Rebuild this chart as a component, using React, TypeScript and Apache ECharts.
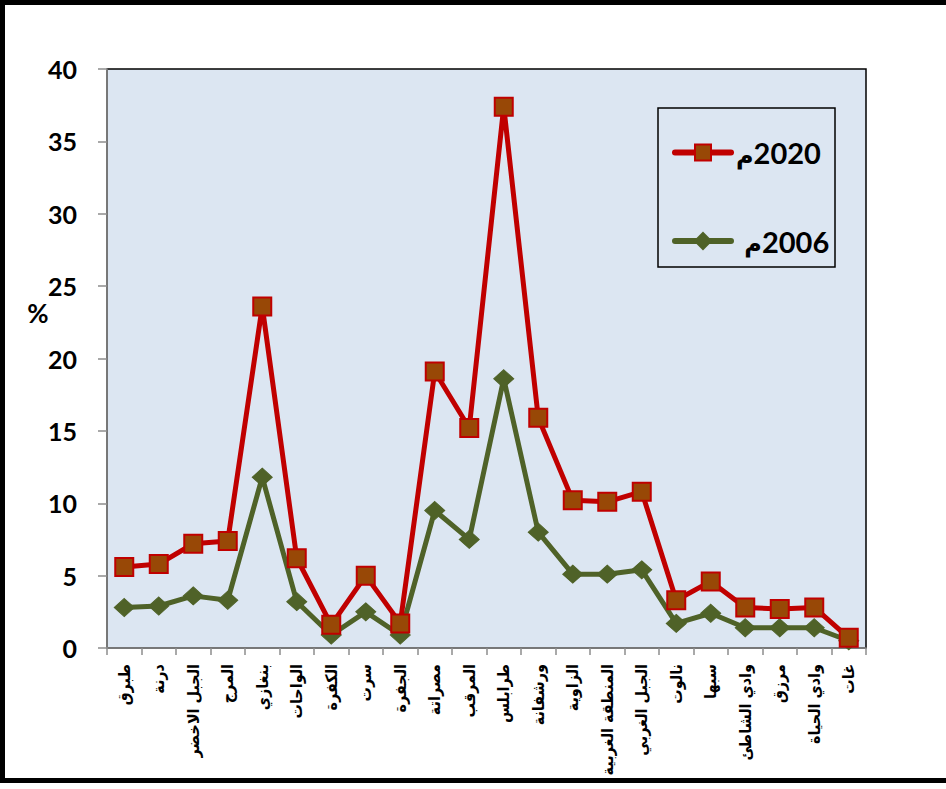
import React, { useEffect, useRef } from "react";
import * as echarts from "echarts";

const categories = [
  "طبرق", "درنة", "الجبل الاخضر", "المرج", "بنغازي", "الواحات", "الكفرة", "سرت",
  "الجفرة", "مصراتة", "المرقب", "طرابلس", "ورشفانة", "الزاوية", "المنطقة الغربية",
  "الجبل الغربي", "نالوت", "سبها", "وادي الشاطئ", "مرزق", "وادي الحياة", "غات",
];
const values2020 = [5.6, 5.8, 7.2, 7.4, 23.6, 6.2, 1.6, 5.0, 1.7, 19.1, 15.2, 37.4, 15.9, 10.2, 10.1, 10.8, 3.3, 4.6, 2.8, 2.7, 2.8, 0.7];
const values2006 = [2.8, 2.9, 3.6, 3.3, 11.8, 3.2, 0.9, 2.5, 0.9, 9.5, 7.5, 18.6, 8.0, 5.1, 5.1, 5.4, 1.7, 2.4, 1.4, 1.4, 1.4, 0.5];
const seriesNames = ["2020", "2006"];
const yTicks = { min: 0, max: 40, interval: 5 };
const yUnit = "%";
const suffix = "م";

export default function App() {
  const ref = useRef<HTMLDivElement>(null);
  useEffect(() => {
    document.body.style.margin = "0";
    const chart = echarts.init(ref.current!, undefined, { renderer: "svg" });
    chart.setOption({
      animation: false,
      backgroundColor: "#ffffff",
      grid: {
        left: 107, right: 80, top: 69, bottom: 141,
        show: true, backgroundColor: "#DCE6F2", borderColor: "#000", borderWidth: 1.5,
      },
      legend: {
        data: [seriesNames[0], seriesNames[1]],
        orient: "vertical",
        left: 672, top: 138, padding: 0,
        itemWidth: 56, itemHeight: 20, itemGap: 59,
        lineStyle: { width: 6, cap: "round" },
        formatter: (n: string) => (n === seriesNames[0] ? `{a|${suffix}}{b|${n}}` : `{a| ${suffix}}{b|${n}}`),
        textStyle: {
          rich: {
            a: { fontFamily: "DejaVu Sans", fontWeight: "bold", fontSize: 24, color: "#000", padding: [6, 0, 0, 0] },
            b: { fontFamily: "Lato", fontWeight: "bold", fontSize: 29, color: "#000" },
          },
        },
      },
      graphic: [
        {
          type: "rect", left: 0, top: 0, z: 100,
          shape: { x: 10, y: 7.5, width: 1000, height: 778 },
          style: { fill: "none", stroke: "#000", lineWidth: 5 },
        },
        {
          type: "rect", z: 1,
          shape: { x: 658, y: 108, width: 177, height: 159 },
          style: { fill: "#DCE6F2", stroke: "#000", lineWidth: 1.5 },
        },
        {
          type: "text", x: 38, y: 313,
          style: { text: yUnit, fontFamily: "Lato", fontWeight: "bold", fontSize: 26, fill: "#000", align: "center", verticalAlign: "middle" },
        },
      ],
      xAxis: {
        type: "category",
        data: categories,
        boundaryGap: true,
        axisLine: { lineStyle: { color: "#8c8c8c", width: 1.5 } },
        axisTick: { show: true, length: 7, lineStyle: { color: "#8c8c8c", width: 1.5 } },
        axisLabel: {
          interval: 0, rotate: 90, margin: 16,
          fontFamily: "DejaVu Sans Condensed", fontWeight: "bold", fontSize: 16, color: "#000",
        },
      },
      yAxis: {
        type: "value",
        min: yTicks.min, max: yTicks.max, interval: yTicks.interval,
        splitLine: { show: false },
        axisLine: { show: true, lineStyle: { color: "#8c8c8c", width: 1.5 } },
        axisTick: { show: true, length: 9, lineStyle: { color: "#8c8c8c", width: 1.5 } },
        axisLabel: { margin: 30, fontFamily: "Lato", fontWeight: "bold", fontSize: 25, color: "#000" },
      },
      series: [
        {
          name: seriesNames[1], type: "line", data: values2006, z: 3,
          symbol: "diamond", symbolSize: [20, 18],
          lineStyle: { color: "#4F6228", width: 5 },
          itemStyle: { color: "#4F6228", borderColor: "#4F6228", borderWidth: 1 },
        },
        {
          name: seriesNames[0], type: "line", data: values2020, z: 4,
          symbol: "rect", symbolSize: 18,
          lineStyle: { color: "#C00000", width: 5 },
          itemStyle: { color: "#984806", borderColor: "#C00000", borderWidth: 2 },
        },
      ],
    });
    return () => chart.dispose();
  }, []);
  return <div ref={ref} style={{ width: 946, height: 789 }} />;
}
